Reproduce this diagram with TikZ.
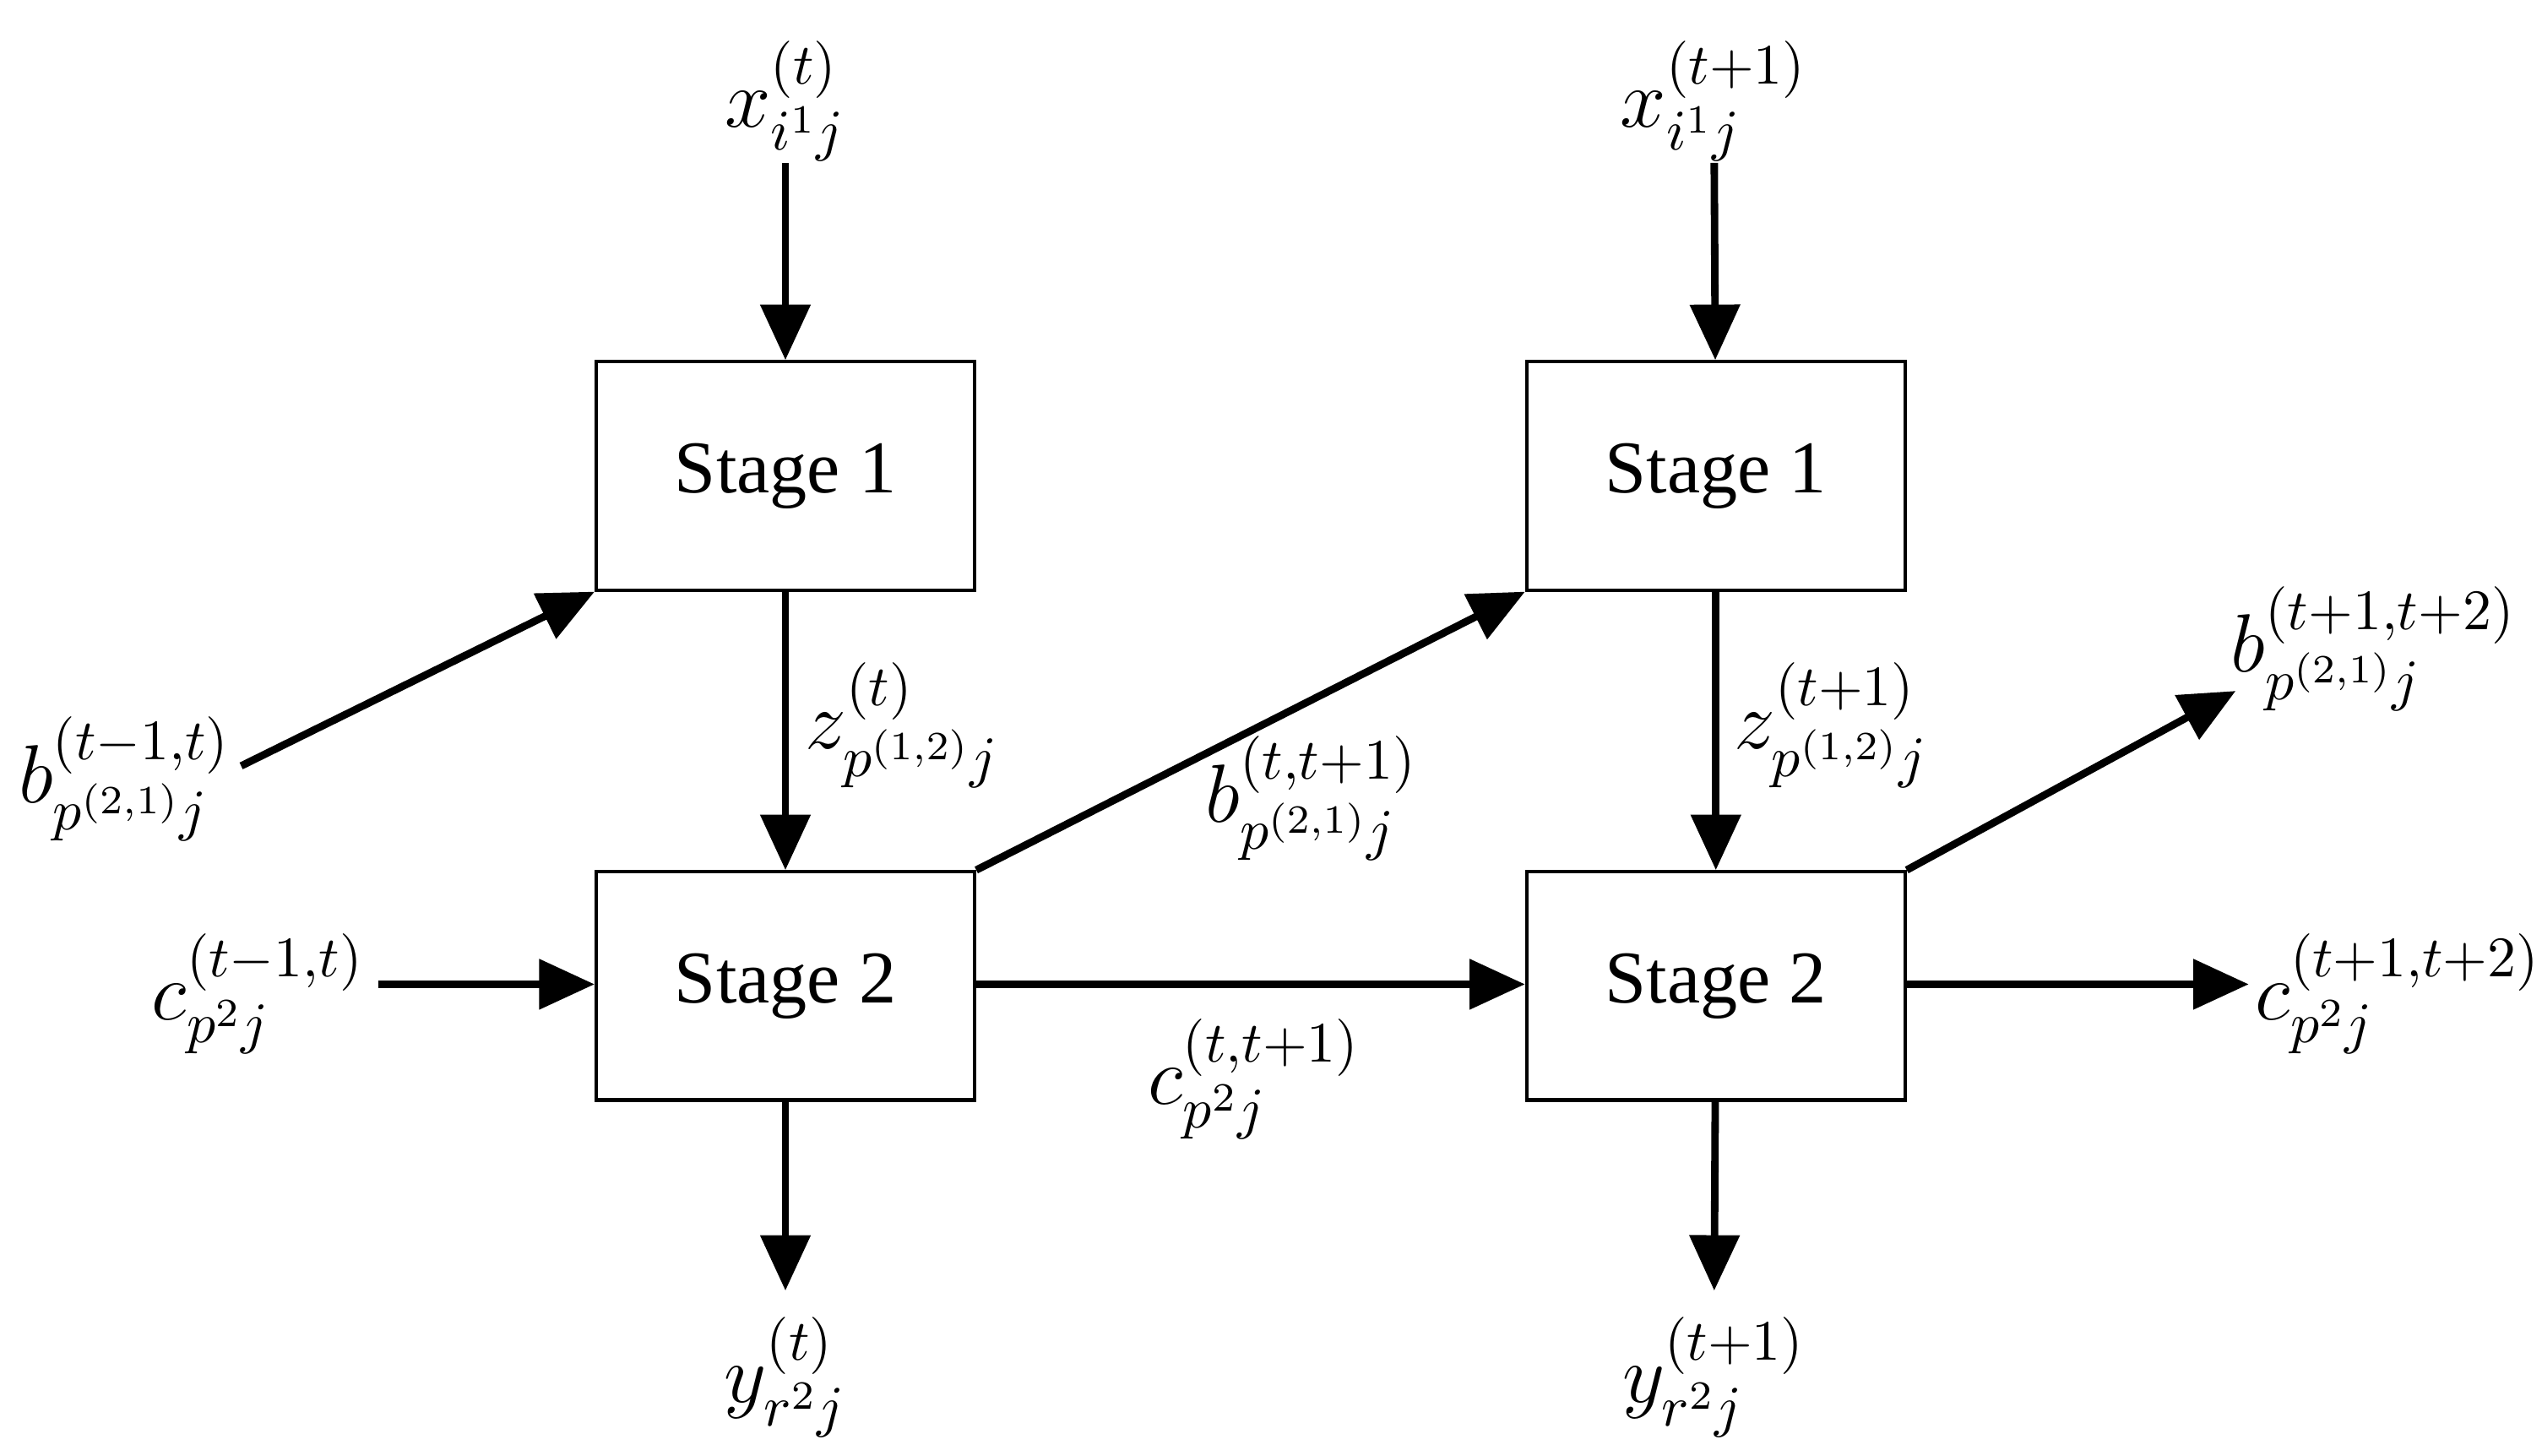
\documentclass[tikz,border=0pt]{standalone}
\usepackage{fontspec}
\setmainfont{Liberation Serif}
\usetikzlibrary{arrows.meta}
\begin{document}
\begin{tikzpicture}[x=0.01cm,y=-0.01cm,
  box/.style={draw,line width=0.6pt,minimum width=2.32cm,minimum height=1.4cm,font=\fontsize{13}{16}\selectfont,inner sep=0pt},
  lab/.style={font=\fontsize{14.5}{17}\selectfont,inner sep=1pt},
  arr/.style={line width=1.3pt,-{Triangle[length=0.34cm,width=0.3cm]}}]
\useasboundingbox (0,0) rectangle (1560,893);
\node[box] (s1a) at (482,292) {Stage 1};
\node[box] (s2a) at (482,605) {Stage 2};
\node[box] (s1b) at (1053,292) {Stage 1};
\node[box] (s2b) at (1053,605) {Stage 2};
\node[lab] (xa) at (482,62) {$x^{(t)}_{i^1 j}$};
\node[lab] (xb) at (1052,62) {$x^{(t+1)}_{i^1 j}$};
\node[lab,anchor=west] (za) at (490,445) {$z^{(t)}_{p^{(1,2)} j}$};
\node[lab,anchor=west] (zb) at (1060,445) {$z^{(t+1)}_{p^{(1,2)} j}$};
\node[lab,anchor=east] (ba) at (146,478) {$b^{(t-1,t)}_{p^{(2,1)} j}$};
\node[lab,anchor=east] (ca) at (228,610) {$c^{(t-1,t)}_{p^{2} j}$};
\node[lab] (bm) at (805,490) {$b^{(t,t+1)}_{p^{(2,1)} j}$};
\node[lab] (cm) at (770,662) {$c^{(t,t+1)}_{p^{2} j}$};
\node[lab] (ya) at (482,845) {$y^{(t)}_{r^2 j}$};
\node[lab] (yb) at (1052,845) {$y^{(t+1)}_{r^2 j}$};
\node[lab,anchor=west] (bb) at (1365,398) {$b^{(t+1,t+2)}_{p^{(2,1)} j}$};
\node[lab,anchor=west] (cb) at (1380,610) {$c^{(t+1,t+2)}_{p^{2} j}$};
\coordinate (ya1) at (482,792);
\coordinate (yb1) at (1052,792);
\coordinate (bb1) at (1372,424);
\coordinate (cb1) at (1380,604);
\coordinate (ba1) at (148,470);
\coordinate (ca1) at (232,604);
\draw[arr] (482,100) -- (s1a);
\draw[arr] (1052,100) -- (s1b);
\draw[arr] (s1a) -- (s2a);
\draw[arr] (s1b) -- (s2b);
\draw[arr] (ba1) -- (s1a.south west);
\draw[arr] (ca1) -- (s2a.west |- ca1);
\draw[arr] (s2a.east |- ca1) -- (s2b.west |- ca1);
\draw[arr] (s2a.north east) -- (s1b.south west);
\draw[arr] (s2b.east |- cb1) -- (cb1);
\draw[arr] (s2b.north east) -- (bb1);
\draw[arr] (s2a) -- (ya1);
\draw[arr] (s2b) -- (yb1);
\end{tikzpicture}
\end{document}
